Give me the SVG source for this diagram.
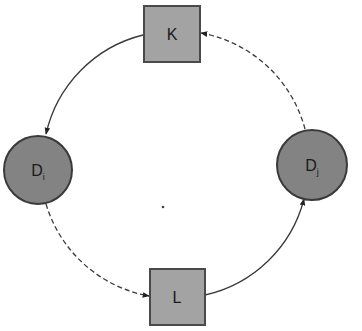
<svg xmlns="http://www.w3.org/2000/svg" width="362" height="331" viewBox="0 0 362 331">
<style>
.box{fill:#a3a3a3;stroke:#4a4a4a;stroke-width:2}
.circ{fill:#838383;stroke:#3a3a3a;stroke-width:2}
.lbl{font-family:"Liberation Sans",Arial,sans-serif;font-size:16px;fill:#1a1a1a;text-anchor:middle}
.sub{font-size:9px}
.edge{fill:none;stroke:#3a3a3a;stroke-width:1.3}
.dash{stroke-dasharray:5,3}
</style>
<defs>
<marker id="ah" viewBox="0 0 10 10" refX="9" refY="5" markerWidth="7" markerHeight="7" orient="auto" markerUnits="userSpaceOnUse">
<path d="M0,1 L10,5 L0,9 z" fill="#222"/>
</marker>
</defs>
<rect width="362" height="331" fill="#ffffff"/>
<g id="connectors">
<path class="edge" d="M143,35 A132,132 0 0 0 46,134" marker-end="url(#ah)"/>
<path class="edge dash" d="M46,204 A132,132 0 0 0 149,296" marker-end="url(#ah)"/>
<path class="edge" d="M205,295 A132,132 0 0 0 304,199" marker-end="url(#ah)"/>
<path class="edge dash" d="M305,129 A132,132 0 0 0 201,33" marker-end="url(#ah)"/>
</g>
<g id="node-K">
<rect class="box" x="144" y="6" width="56" height="56"/>
<text class="lbl" x="172" y="40">K</text>
</g>
<g id="node-L">
<rect class="box" x="150" y="269" width="55" height="56"/>
<text class="lbl" x="177" y="303">L</text>
</g>
<g id="node-Di">
<circle class="circ" cx="38" cy="170" r="34"/>
<text class="lbl" x="38" y="176">D<tspan class="sub" dy="4">i</tspan></text>
</g>
<g id="node-Dj">
<circle class="circ" cx="312" cy="165" r="35"/>
<text class="lbl" x="312" y="171">D<tspan class="sub" dy="4">j</tspan></text>
</g>
<circle cx="163" cy="207" r="1.3" fill="#444"/>
</svg>
